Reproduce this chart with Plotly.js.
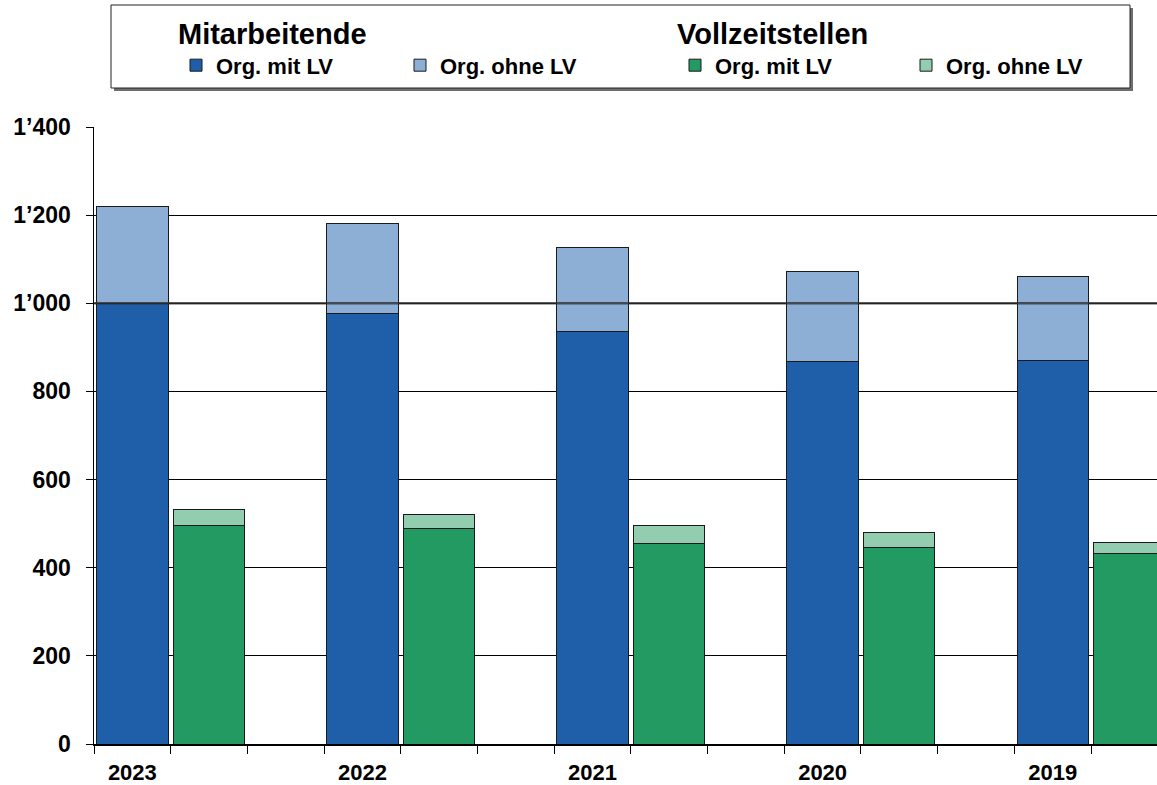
<!DOCTYPE html>
<html>
<head>
<meta charset="utf-8">
<script src="https://cdn.plot.ly/plotly-3.0.1.min.js"></script>
<style>html,body{margin:0;padding:0;background:#fff;}#chart{width:1157px;height:785px;}</style>
</head>
<body>
<div id="chart"></div>
<script>
// ---- data ----
const years = ['2023', '2022', '2021', '2020', '2019'];
const maMitLV  = [1000, 976, 936, 867, 870];   // Mitarbeitende, Org. mit LV
const maOhneLV = [219, 205, 190, 206, 191];    // Mitarbeitende, Org. ohne LV
const vzMitLV  = [496, 488, 455, 447, 432];    // Vollzeitstellen, Org. mit LV
const vzOhneLV = [35, 32, 41, 34, 25];         // Vollzeitstellen, Org. ohne LV
const refLine = 1000;
const groupTitles = ['Mitarbeitende', 'Vollzeitstellen'];
const seriesNames = ['Org. mit LV', 'Org. ohne LV'];

// ---- positions: 3 slots per year (staff bar, FTE bar, gap) ----
const xMA = years.map((_, i) => i * 3);
const xVZ = years.map((_, i) => i * 3 + 1);

const FONT = 'Arial, "Liberation Sans", Helvetica, sans-serif';
const lineStyle = {color: '#1a1a1a', width: 1};
const BW = 0.93;

// plot-area geometry (pixels) used to place the legend frame
const PL = 94, PW = 1063, PB = 744, PH = 617;
const px = v => (v - PL) / PW;
const py = v => (PB - v) / PH;

const traces = [
  {type: 'bar', name: seriesNames[0], x: xMA, y: maMitLV, width: BW, legend: 'legend',
   marker: {color: '#1F5EA8', line: lineStyle}},
  {type: 'bar', name: seriesNames[1], x: xMA, y: maOhneLV, width: BW, legend: 'legend',
   marker: {color: '#8EAFD5', line: lineStyle}},
  {type: 'bar', name: seriesNames[0], x: xVZ, y: vzMitLV, width: BW, legend: 'legend2',
   marker: {color: '#229A61', line: lineStyle}},
  {type: 'bar', name: seriesNames[1], x: xVZ, y: vzOhneLV, width: BW, legend: 'legend2',
   marker: {color: '#93CDB0', line: lineStyle}}
];

const titleFont = {family: FONT, size: 29, color: '#000', weight: 'bold'};
const legendCommon = {
  orientation: 'h', xanchor: 'left', yanchor: 'top', y: 1.195,
  bgcolor: 'rgba(0,0,0,0)', borderwidth: 0,
  font: {family: FONT, size: 22, color: '#000', weight: 'bold'},
  traceorder: 'normal', itemclick: false, itemdoubleclick: false
};

const layout = {
  width: 1157, height: 785,
  margin: {l: PL, r: 0, t: 127, b: 41, pad: 0},
  paper_bgcolor: '#fff', plot_bgcolor: '#fff',
  barmode: 'stack',
  separators: '.’',
  font: {family: FONT, color: '#000'},
  showlegend: true,
  legend: Object.assign({}, legendCommon, {
    x: px(176), entrywidth: 179,
    title: {text: groupTitles[0], side: 'top', font: titleFont}
  }),
  legend2: Object.assign({}, legendCommon, {
    x: px(675), entrywidth: 186,
    title: {text: groupTitles[1], side: 'top', font: titleFont}
  }),
  xaxis: {
    range: [-0.5, 13.36],
    tickmode: 'array', tickvals: xMA, ticktext: years,
    ticks: '', showgrid: false, zeroline: false,
    showline: true, linecolor: '#000', linewidth: 1.5,
    tickfont: {family: FONT, size: 22, color: '#000', weight: 'bold'},
    ticklabelstandoff: 8,
    minor: {tickmode: 'linear', tick0: -0.5, dtick: 1, ticks: 'outside', ticklen: 8, tickcolor: '#000', tickwidth: 1, showgrid: false}
  },
  yaxis: {
    range: [0, 1400], dtick: 200, tick0: 0,
    tickformat: ',d',
    ticks: 'outside', ticklen: 7, tickcolor: '#000', tickwidth: 1,
    showgrid: true, gridcolor: '#000', gridwidth: 1,
    zeroline: false,
    showline: true, linecolor: '#000', linewidth: 1.5,
    tickfont: {family: FONT, size: 23, color: '#000', weight: 'bold'},
    ticklabelstandoff: 10
  },
  shapes: [
    // legend frame shadow
    {type: 'rect', xref: 'paper', yref: 'paper', layer: 'below',
     x0: px(114), x1: px(1133), y0: py(91), y1: py(8),
     fillcolor: '#6e6e6e', line: {width: 0}},
    // legend frame
    {type: 'rect', xref: 'paper', yref: 'paper', layer: 'below',
     x0: px(111), x1: px(1130), y0: py(88), y1: py(5),
     fillcolor: '#fff', line: {color: '#222', width: 1}},
    // reference line at 1'000 drawn over the bars
    {type: 'line', xref: 'paper', yref: 'y', layer: 'above',
     x0: 0, x1: 1, y0: refLine, y1: refLine,
     line: {color: 'rgba(45,45,45,0.78)', width: 2.5}}
  ]
};

Plotly.newPlot('chart', traces, layout, {displayModeBar: false, staticPlot: true});
</script>
</body>
</html>
